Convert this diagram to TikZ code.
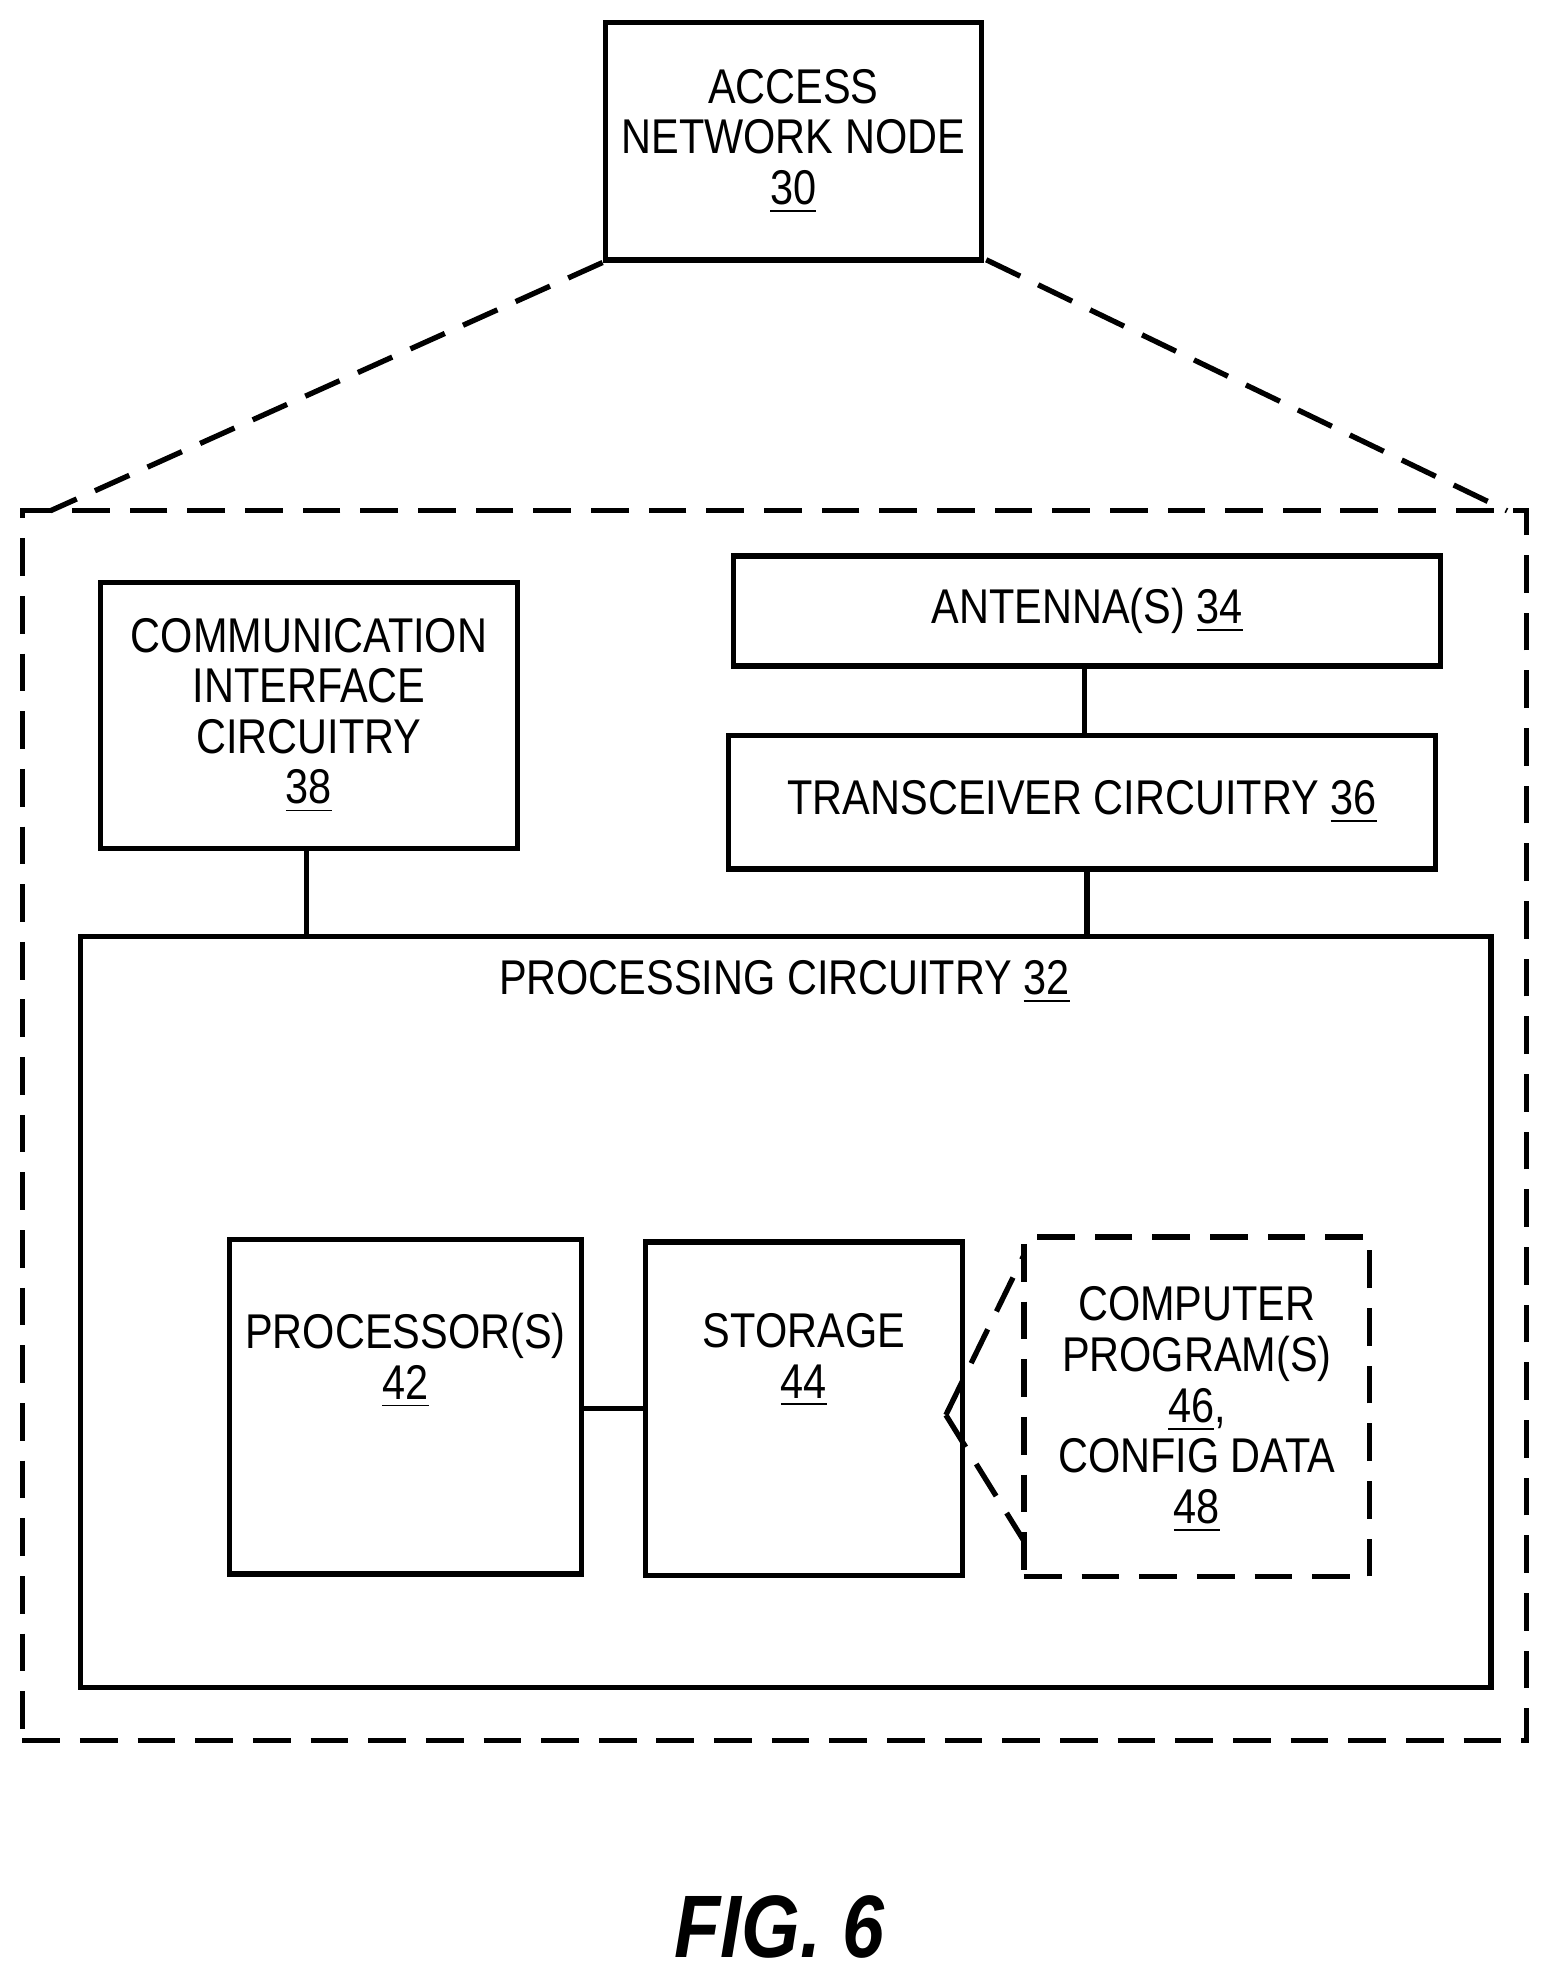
\documentclass[tikz,border=0pt]{standalone}
\usepackage{fontspec}
\setmainfont{Liberation Sans}[FakeStretch=0.85]
\usetikzlibrary{positioning}
\tikzset{box/.style={draw, line width=1.2pt, inner sep=0pt, align=center, font=\fontsize{11}{11.4}\selectfont},
dashbox/.style={box, dash pattern=on 8.5pt off 4.5pt},
dashline/.style={line width=1.2pt, dash pattern=on 8.5pt off 4.5pt},
lbl/.style={align=center, font=\fontsize{11}{11.4}\selectfont}}
\begin{document}
\begin{tikzpicture}[x=0.01cm,y=-0.01cm]
\useasboundingbox (0,0) rectangle (1230,1570);

\node [box, minimum width=2.98cm, minimum height=1.88cm] (access) at (629,112) {ACCESS\\NETWORK NODE\\\underline{30}};
\node [dashbox, minimum width=11.92cm, minimum height=9.75cm] (outer) at (614,892.5) {};
\draw [dashline] (access.south west) -- (40,405);
\draw [dashline] (782,206) -- (1195,405);

\node [box, minimum width=3.3cm, minimum height=2.11cm] (comm) at (245,567.5) {COMMUNICATION\\INTERFACE\\CIRCUITRY\\\underline{38}};
\node [box, minimum width=5.6cm, minimum height=0.87cm] (ant) at (862,484.5) {ANTENNA(S) \underline{34}};
\node [box, minimum width=5.6cm, minimum height=1.06cm] (trans) at (858,636) {TRANSCEIVER CIRCUITRY \underline{36}};
\node [box, minimum width=11.18cm, minimum height=5.95cm] (proc) at (623,1040.5) {};
\node [lbl, anchor=north] (proclbl) at (622,749) {PROCESSING CIRCUITRY \underline{32}};

\draw [line width=1.2pt] (ant.south -| 860,0) -- (trans.north -| 860,0);
\draw [line width=1.2pt] (comm.south -| 243,0) -- (proc.north -| 243,0);
\draw [line width=1.2pt] (trans.south -| 862,0) -- (proc.north -| 862,0);

\node [box, minimum width=2.79cm, minimum height=2.65cm] (cpu) at (321.5,1115.5) {};
\node [lbl, anchor=north] (cpulbl) at (321.5,1029) {PROCESSOR(S)\\\underline{42}};
\node [box, minimum width=2.51cm, minimum height=2.64cm] (store) at (637.5,1117) {};
\node [lbl, anchor=north] (storelbl) at (637.5,1029) {STORAGE\\\underline{44}};
\draw [line width=1.2pt] (cpu.east |- 0,1117) -- (store.west |- 0,1117);

\node [dashbox, minimum width=2.74cm, minimum height=2.69cm] (prog) at (949,1115.5) {};
\node [lbl, anchor=north] (proglbl) at (949,1008) {COMPUTER\\PROGRAM(S)\\\underline{46},\\CONFIG DATA\\\underline{48}};
\coordinate (tip) at (750,1122);
\draw [dashline] (tip) -- (812,995);
\draw [dashline] (tip) -- (812,1222);

\node [font=\fontsize{20}{24}\selectfont\bfseries\itshape] (fig) at (618,1528) {FIG. 6};
\end{tikzpicture}
\end{document}
